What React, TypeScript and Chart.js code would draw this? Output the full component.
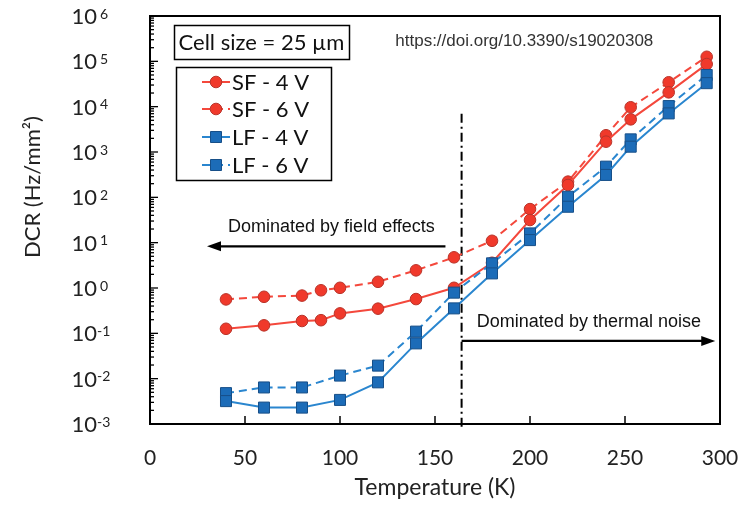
import React, { useEffect, useRef } from "react";
import { Chart, registerables } from "chart.js";

Chart.register(...registerables);

// ---- data ----
const SF_TEMPS = [40, 60, 80, 90, 100, 120, 140, 160, 180, 200, 220, 240, 253, 273, 293];
const SF_4V = [0.126, 0.15, 0.187, 0.195, 0.275, 0.35, 0.57, 1.01, 3.6, 31.6, 187, 1690, 5250, 20700, 87000];
const SF_6V = [0.56, 0.64, 0.68, 0.89, 1.01, 1.37, 2.45, 4.75, 11, 55, 222, 2340, 9700, 34500, 126000];
const LF_TEMPS = [40, 60, 80, 100, 120, 140, 160, 180, 200, 220, 240, 253, 273, 293];
const LF_4V = [0.0032, 0.0023, 0.0023, 0.0034, 0.0083, 0.06, 0.355, 2.1, 11.4, 62, 312, 1310, 7100, 33000];
const LF_6V = [0.0048, 0.0064, 0.0064, 0.0117, 0.0194, 0.109, 0.79, 3.5, 16, 103, 475, 1900, 10300, 50000];

const X_TICKS = [0, 50, 100, 150, 200, 250, 300];
const Y_EXPONENTS = [-3, -2, -1, 0, 1, 2, 3, 4, 5, 6];

const X_TITLE = "Temperature (K)";
const Y_TITLE = "DCR (Hz/mm²)";
const CELL_LABEL = "Cell size = 25 µm";
const DOI_TEXT = "https://doi.org/10.3390/s19020308";
const FIELD_TEXT = "Dominated by field effects";
const THERMAL_TEXT = "Dominated by thermal noise";
const BOUNDARY_T = 164;

const RED_LINE = "#f4483c";
const RED_FILL = "#f0392b";
const RED_EDGE = "#b8342a";
const BLUE_LINE = "#2a86cf";
const BLUE_FILL = "#1c6cb8";
const BLUE_EDGE = "#174f88";

const CALIBRI = "Lato, 'Noto Sans', sans-serif";
const ARIAL = "'Liberation Sans', Arial, sans-serif";

function arrow(ctx: CanvasRenderingContext2D, x1: number, y1: number, x2: number, y2: number) {
  ctx.beginPath();
  ctx.moveTo(x1, y1);
  ctx.lineTo(x2 + (x2 > x1 ? -10 : 10), y2);
  ctx.stroke();
  const dir = x2 > x1 ? 1 : -1;
  ctx.beginPath();
  ctx.moveTo(x2, y2);
  ctx.lineTo(x2 - dir * 14, y2 - 5);
  ctx.lineTo(x2 - dir * 14, y2 + 5);
  ctx.closePath();
  ctx.fill();
}

const decoPlugin = {
  id: "deco",
  beforeDatasetsDraw(chart: any) {
    const { ctx, chartArea: a, scales } = chart;
    const x = scales.x;
    const y = scales.y;
    ctx.save();
    // boundary dash-dot line
    const bx = x.getPixelForValue(BOUNDARY_T);
    ctx.strokeStyle = "#000";
    ctx.lineWidth = 2;
    ctx.setLineDash([9, 4, 2, 4]);
    ctx.beginPath();
    ctx.moveTo(bx, y.getPixelForValue(7000));
    ctx.lineTo(bx, a.bottom + 4);
    ctx.stroke();
    ctx.setLineDash([]);
    // arrows
    ctx.fillStyle = "#000";
    ctx.lineWidth = 2.2;
    arrow(ctx, x.getPixelForValue(155.5), y.getPixelForValue(8.3), x.getPixelForValue(30), y.getPixelForValue(8.3));
    arrow(ctx, bx, y.getPixelForValue(0.068), x.getPixelForValue(297.5), y.getPixelForValue(0.068));
    // texts
    ctx.fillStyle = "#111";
    ctx.font = `18px ${ARIAL}`;
    ctx.textAlign = "center";
    ctx.textBaseline = "middle";
    ctx.fillText(FIELD_TEXT, x.getPixelForValue(95.5), y.getPixelForValue(22));
    ctx.fillText(THERMAL_TEXT, x.getPixelForValue(231), y.getPixelForValue(0.178));
    ctx.fillStyle = "#333";
    ctx.font = `17px ${ARIAL}`;
    ctx.fillText(DOI_TEXT, x.getPixelForValue(197), y.getPixelForValue(2.8e5));
    ctx.restore();
  },
  afterDraw(chart: any) {
    const { ctx, chartArea: a, scales } = chart;
    const x = scales.x;
    const y = scales.y;
    ctx.save();
    ctx.strokeStyle = "#000";
    ctx.lineWidth = 2;
    ctx.strokeRect(a.left, a.top, a.right - a.left, a.bottom - a.top);
    // y ticks (log minor/major)
    ctx.lineWidth = 1.3;
    for (let e = -3; e <= 5; e++) {
      for (let m = 1; m <= 9; m++) {
        const py = y.getPixelForValue(m * Math.pow(10, e));
        const len = m === 1 ? 8 : 4;
        ctx.beginPath();
        ctx.moveTo(a.left, py);
        ctx.lineTo(a.left + len, py);
        ctx.stroke();
      }
    }
    // x ticks
    ctx.lineWidth = 1.5;
    X_TICKS.slice(1, -1).forEach((t) => {
      const px = x.getPixelForValue(t);
      ctx.beginPath();
      ctx.moveTo(px, a.bottom);
      ctx.lineTo(px, a.bottom - 8);
      ctx.stroke();
    });
    // y labels
    ctx.fillStyle = "#222";
    Y_EXPONENTS.forEach((e) => {
      const py = y.getPixelForValue(Math.pow(10, e)) + 1;
      ctx.font = `22px ${CALIBRI}`;
      ctx.textAlign = "right";
      ctx.textBaseline = "middle";
      ctx.fillText("10", 97, py);
      ctx.font = `14px ${CALIBRI}`;
      ctx.textAlign = "left";
      ctx.fillText(e >= 0 ? String(e) : "-" + Math.abs(e), e >= 0 ? 100 : 97, py - 3);
    });
    // axis titles
    ctx.font = `23px ${CALIBRI}`;
    ctx.textAlign = "center";
    ctx.textBaseline = "middle";
    ctx.fillText(X_TITLE, 435, 488);
    ctx.save();
    ctx.translate(33, 187);
    ctx.rotate(-Math.PI / 2);
    ctx.font = `22px ${CALIBRI}`;
    ctx.fillText(Y_TITLE, 0, 0);
    ctx.restore();
    // cell size box
    ctx.lineWidth = 1.5;
    ctx.strokeStyle = "#000";
    ctx.strokeRect(174.5, 25.5, 175, 34);
    ctx.font = `22px ${CALIBRI}`;
    ctx.fillStyle = "#111";
    ctx.fillText(CELL_LABEL, 261.5, 43);
    // legend
    ctx.strokeRect(176.5, 67.5, 155, 113);
    const rows = [82, 109, 137, 165];
    chart.data.datasets.forEach((ds: any, i: number) => {
      const ly = rows[i];
      ctx.strokeStyle = ds.borderColor;
      ctx.lineWidth = 2;
      ctx.setLineDash(ds.borderDash || []);
      ctx.beginPath();
      ctx.moveTo(202, ly);
      ctx.lineTo(230, ly);
      ctx.stroke();
      ctx.setLineDash([]);
      ctx.fillStyle = ds.pointBackgroundColor;
      ctx.strokeStyle = ds.pointBorderColor;
      ctx.lineWidth = 1;
      ctx.beginPath();
      if (ds.pointStyle === "rect") {
        ctx.rect(216 - 5.5, ly - 5.5, 11, 11);
      } else {
        ctx.arc(216, ly, 5.8, 0, Math.PI * 2);
      }
      ctx.fill();
      ctx.stroke();
      ctx.fillStyle = "#111";
      ctx.font = `22px ${CALIBRI}`;
      ctx.textAlign = "left";
      ctx.fillText(ds.label, 232, ly + 1);
    });
    ctx.restore();
  },
};

function makeDataset(label: string, temps: number[], vals: number[], red: boolean, dashed: boolean, order: number) {
  return {
    label,
    data: temps.map((t, i) => ({ x: t, y: vals[i] })),
    borderColor: red ? RED_LINE : BLUE_LINE,
    backgroundColor: red ? RED_FILL : BLUE_FILL,
    pointBackgroundColor: red ? RED_FILL : BLUE_FILL,
    pointBorderColor: red ? RED_EDGE : BLUE_EDGE,
    pointBorderWidth: 1,
    pointStyle: red ? "circle" : "rect",
    pointRadius: red ? 5.8 : 7.8,
    borderWidth: 2,
    borderDash: dashed ? [8, 5] : [],
    tension: 0,
    fill: false,
    order,
  };
}

export default function App() {
  const ref = useRef<HTMLCanvasElement | null>(null);
  useEffect(() => {
    document.body.style.margin = "0";
    const canvas = ref.current;
    if (!canvas) return;
    const chart = new Chart(canvas, {
      type: "line",
      data: {
        datasets: [
          makeDataset("SF - 4 V", SF_TEMPS, SF_4V, true, false, 2),
          makeDataset("SF - 6 V", SF_TEMPS, SF_6V, true, true, 3),
          makeDataset("LF - 4 V", LF_TEMPS, LF_4V, false, false, 0),
          makeDataset("LF - 6 V", LF_TEMPS, LF_6V, false, true, 1),
        ] as any,
      },
      options: {
        responsive: false,
        animation: false,
        devicePixelRatio: 1,
        layout: { padding: { top: 16, right: 29, left: 0, bottom: 0 } },
        plugins: { legend: { display: false }, tooltip: { enabled: false } },
        scales: {
          x: {
            type: "linear",
            min: 0,
            max: 300,
            afterBuildTicks: (s: any) => {
              s.ticks = X_TICKS.map((v) => ({ value: v }));
            },
            ticks: { font: { family: CALIBRI, size: 21 }, color: "#222", padding: 22, maxRotation: 0, autoSkip: false },
            grid: { display: false, drawTicks: false },
            border: { display: false },
            afterFit: (s: any) => {
              s.height = 82;
              s.paddingLeft = 0;
              s.paddingRight = 0;
            },
          },
          y: {
            type: "logarithmic",
            min: 1e-3,
            max: 1e6,
            ticks: { display: false },
            grid: { display: false, drawTicks: false },
            border: { display: false },
            afterFit: (s: any) => {
              s.width = 150;
              s.paddingTop = 0;
              s.paddingBottom = 0;
            },
          },
        },
      } as any,
      plugins: [decoPlugin],
    });
    return () => chart.destroy();
  }, []);
  return (
    <div style={{ width: 749, height: 506, background: "#fff" }}>
      <canvas ref={ref} width={749} height={506} />
    </div>
  );
}
